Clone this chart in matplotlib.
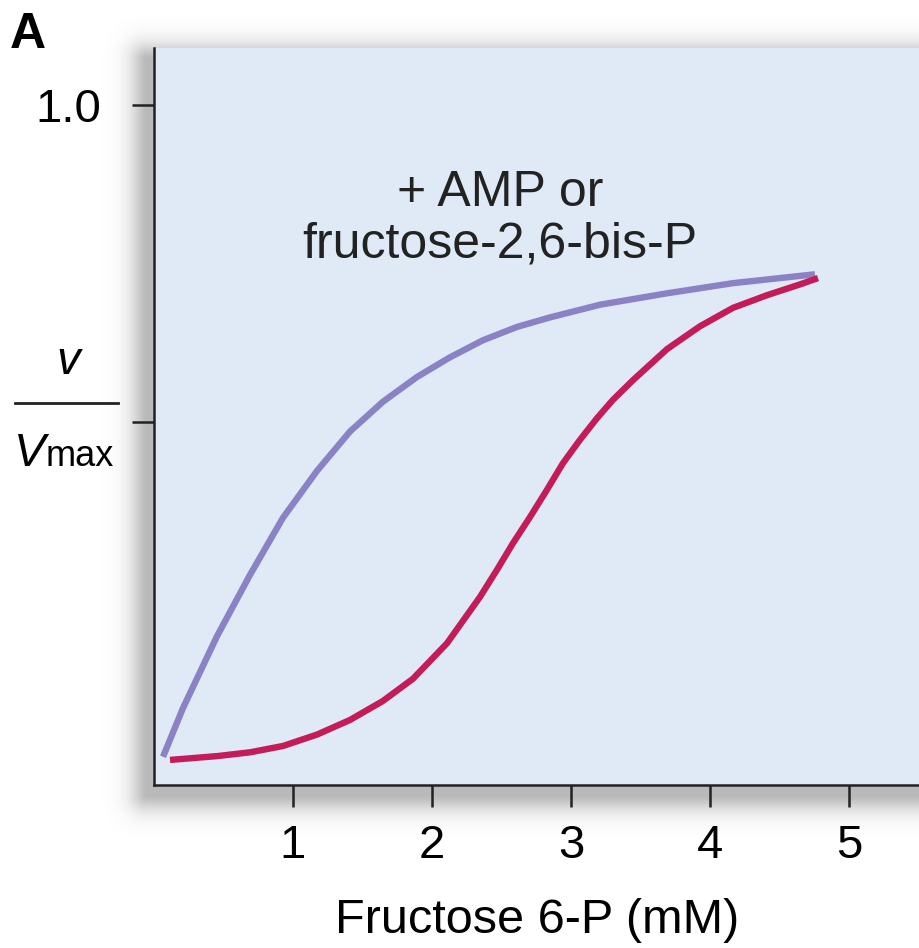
import matplotlib
matplotlib.use("Agg")
import matplotlib.pyplot as plt
import numpy as np

plt.rcParams["font.family"] = ["Liberation Sans", "DejaVu Sans"]

# fructose 6-P (mM) vs v/Vmax
x_activated = [0.065, 0.209, 0.453, 0.691, 0.928, 1.173, 1.410, 1.647, 1.892,
               2.129, 2.367, 2.612, 2.849, 3.209, 3.691, 4.165, 4.755]
y_activated = [-0.028, 0.049, 0.162, 0.259, 0.349, 0.423, 0.485, 0.532, 0.571,
               0.602, 0.629, 0.650, 0.665, 0.685, 0.703, 0.719, 0.733]

x_basal = [0.115, 0.453, 0.691, 0.928, 1.173, 1.410, 1.647, 1.863, 2.108,
           2.345, 2.468, 2.583, 2.705, 2.827, 2.942, 3.065, 3.187, 3.302,
           3.446, 3.691, 3.928, 4.165, 4.410, 4.647, 4.777]
y_basal = [-0.033, -0.027, -0.021, -0.011, 0.007, 0.030, 0.060, 0.095, 0.151,
           0.224, 0.267, 0.309, 0.350, 0.393, 0.435, 0.472, 0.506, 0.535,
           0.566, 0.615, 0.651, 0.680, 0.700, 0.717, 0.727]

x_ticks = [1, 2, 3, 4, 5]
y_ticks = [0.5, 1.0]
y_tick_labels = ["", "1.0"]
annotation = "+ AMP or\nfructose-2,6-bis-P"

W, H = 920, 948
fig = plt.figure(figsize=(W / 100, H / 100), dpi=100)

# soft drop shadow behind the plot panel
yy, xx = np.mgrid[0:H, 0:W]
left, right, top, bottom = 154 - 8, W + 50, 48 + 10, 785 + 10
dx = np.maximum(np.maximum(left - xx, 0), xx - right)
dy = np.maximum(np.maximum(top - yy, 0), yy - bottom)
d = np.hypot(dx, dy)
alpha = 0.42 * np.exp(-(d / 16.0) ** 1.5)
shadow = np.zeros((H, W, 4))
shadow[..., 0:3] = 0.35
shadow[..., 3] = alpha
fig.figimage(shadow, xo=0, yo=0, origin="upper", zorder=0)

ax = fig.add_axes([154 / W, 1 - 785 / H, 1 - 154 / W, (785 - 48) / H])
ax.set_zorder(2)
ax.set_facecolor("#dfeaf6")
ax.plot(x_activated, y_activated, color="#8a82c4", lw=4.6,
        solid_capstyle="butt", solid_joinstyle="round")
ax.plot(x_basal, y_basal, color="#c41c58", lw=4.6,
        solid_capstyle="butt", solid_joinstyle="round")

ax.set_xlim(0, (W - 154) / 139)
ax.set_ylim((739 - 785) / 634, (739 - 48) / 634)

for side in ["top", "right"]:
    ax.spines[side].set_visible(False)
for side in ["left", "bottom"]:
    ax.spines[side].set_linewidth(1.8)
    ax.spines[side].set_color("#222222")

ax.set_xticks(x_ticks)
ax.set_xticklabels([str(t) for t in x_ticks])
ax.set_yticks(y_ticks)
ax.set_yticklabels(y_tick_labels)
ax.tick_params(axis="x", length=16, width=1.8, color="#222222", pad=12, labelsize=34)
ax.tick_params(axis="y", length=16, width=1.8, color="#222222", pad=22, labelsize=34)

ax.set_xlabel("Fructose 6-P (mM)", fontsize=35, labelpad=22)

ax.text(2.49, 0.82, annotation, ha="center", va="center", fontsize=36,
        linespacing=1.15, color="#222222")

# v / Vmax label
fig.text(68 / W, 1 - 362 / H, "v", fontsize=34, style="italic", ha="center", va="center")
fig.add_artist(plt.Line2D([15 / W, 118 / W], [1 - 403 / H, 1 - 403 / H],
                          color="#222222", lw=2.0, transform=fig.transFigure))
fig.text(14 / W, 1 - 466 / H, "V", fontsize=34, style="italic", ha="left", va="baseline")
fig.text(46 / W, 1 - 466 / H, "max", fontsize=26, ha="left", va="baseline")

fig.text(10 / W, 1 - 48 / H, "A", fontsize=36, fontweight="bold", ha="left", va="baseline")

fig.savefig("out.png", dpi=100)
